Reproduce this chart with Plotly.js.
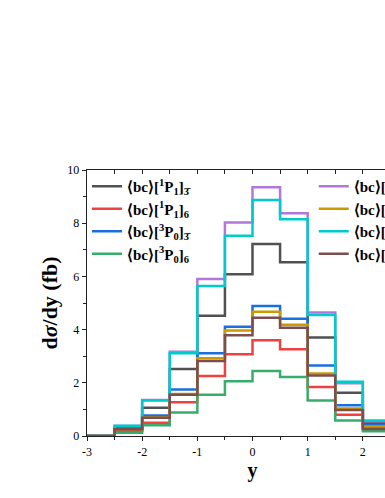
<!DOCTYPE html>
<html>
<head>
<meta charset="utf-8">
<script src="https://cdn.plot.ly/plotly-3.0.1.min.js"></script>
<style>
html,body{margin:0;padding:0;overflow:hidden;background:#fff;width:385px;height:498px;}
#chart{width:440px;height:498px;}
</style>
</head>
<body>
<div id="chart"></div>
<script>
// Bin edges of the rapidity histogram (bin width 0.5)
const binEdges = [-2.5, -2, -1.5, -1, -0.5, 0, 0.5, 1, 1.5, 2, 2.5];

// Axis tick labels
const xTickVals = [-3, -2, -1, 0, 1, 2, 3];
const xTickText = ['-3', '-2', '-1', '0', '1', '2', '3'];
const yTickVals = [0, 2, 4, 6, 8, 10];
const yTickText = ['0', '2', '4', '6', '8', '10'];

// dσ/dy (fb) per bin
const P1_3bar = [0.29, 1.06, 2.52, 4.52, 6.08, 7.22, 6.53, 3.70, 1.63, 0.50];
const P1_6    = [0.20, 0.50, 1.27, 2.26, 3.07, 3.60, 3.26, 1.84, 0.80, 0.30];
const P0_3bar = [0.30, 0.77, 1.75, 3.11, 4.11, 4.89, 4.41, 2.65, 1.16, 0.41];
const P0_6    = [0.12, 0.40, 0.88, 1.55, 2.06, 2.44, 2.22, 1.33, 0.58, 0.18];
const P1b_3bar = [0.38, 1.35, 3.17, 5.90, 8.03, 9.35, 8.37, 4.64, 1.98, 0.55];
const P1b_6    = [0.25, 0.70, 1.58, 2.92, 3.97, 4.67, 4.18, 2.35, 1.03, 0.36];
const P2_3bar  = [0.39, 1.33, 3.11, 5.64, 7.53, 8.87, 8.15, 4.55, 2.04, 0.58];
const P2_6     = [0.25, 0.69, 1.55, 2.82, 3.79, 4.45, 4.07, 2.27, 0.98, 0.26];

const labels = [
  '⟨bc⟩[<sup>1</sup>P<sub>1</sub>]<sub>3̄</sub>',
  '⟨bc⟩[<sup>1</sup>P<sub>1</sub>]<sub>6</sub>',
  '⟨bc⟩[<sup>3</sup>P<sub>0</sub>]<sub>3̄</sub>',
  '⟨bc⟩[<sup>3</sup>P<sub>0</sub>]<sub>6</sub>',
  '⟨bc⟩[<sup>3</sup>P<sub>1</sub>]<sub>3̄</sub>',
  '⟨bc⟩[<sup>3</sup>P<sub>1</sub>]<sub>6</sub>',
  '⟨bc⟩[<sup>3</sup>P<sub>2</sub>]<sub>3̄</sub>',
  '⟨bc⟩[<sup>3</sup>P<sub>2</sub>]<sub>6</sub>'
];
const series = [P1_3bar, P1_6, P0_3bar, P0_6, P1b_3bar, P1b_6, P2_3bar, P2_6];
const colors = ['#515151', '#F14040', '#1A6FDF', '#37AD6B', '#B177DE', '#CC9900', '#00CBCC', '#7D4E4E'];

const xRange = [-3, 3];

function stepXY(vals) {
  const xs = [xRange[0]];
  const ys = [0];
  for (let i = 0; i < vals.length; i++) { xs.push(binEdges[i]); ys.push(vals[i]); }
  xs.push(binEdges[binEdges.length - 1]); ys.push(0);
  xs.push(xRange[1]); ys.push(0);
  return {xs, ys};
}

const traces = series.map((vals, i) => {
  const s = stepXY(vals);
  return {
    x: s.xs, y: s.ys, type: 'scatter', mode: 'lines',
    line: {shape: 'hv', color: colors[i], width: 2.5},
    name: labels[i],
    legend: i < 4 ? 'legend' : 'legend2',
    hoverinfo: 'skip'
  };
});
// dummy trace for top axis ticks
traces.push({x: xRange, y: [0, 0], xaxis: 'x2', yaxis: 'y', mode: 'lines',
  line: {width: 0}, showlegend: false, hoverinfo: 'skip'});

const FAM = '"Liberation Serif", "Times New Roman", serif';
const legendFont = {family: FAM, color: '#000', size: 15, weight: 'bold'};
const tickFont = {family: FAM, color: '#000', size: 12};

const layout = {
  width: 440, height: 498,
  margin: {l: 87, r: 21.5, t: 170, b: 62},
  paper_bgcolor: '#fff', plot_bgcolor: '#fff',
  font: {family: FAM, color: '#000', size: 12},
  showlegend: true,
  xaxis: {
    range: xRange, tickmode: 'array', tickvals: xTickVals, ticktext: xTickText,
    showgrid: false, zeroline: false,
    showline: true, linecolor: '#222', linewidth: 1.3,
    ticks: 'outside', ticklen: 4, tickcolor: '#222', tickwidth: 1,
    minor: {dtick: 0.5, tick0: -3, ticks: 'outside', ticklen: 3, tickcolor: '#222', showgrid: false},
    tickfont: tickFont,
    title: {text: '<b>y</b>', font: {family: FAM, color: '#000', size: 20}, standoff: 5}
  },
  xaxis2: {
    overlaying: 'x', side: 'top', range: xRange, dtick: 0.5, tick0: -3,
    showgrid: false, zeroline: false, showticklabels: false,
    showline: true, linecolor: '#222', linewidth: 1.3,
    ticks: 'inside', ticklen: 4, tickcolor: '#222'
  },
  yaxis: {
    range: [0, 10], tickmode: 'array', tickvals: yTickVals, ticktext: yTickText,
    showgrid: false, zeroline: false,
    showline: true, linecolor: '#222', linewidth: 1.3, mirror: true,
    ticks: 'outside', ticklen: 4, tickcolor: '#222',
    minor: {dtick: 1, tick0: 0, ticks: 'outside', ticklen: 3, tickcolor: '#222', showgrid: false},
    tickfont: tickFont,
    title: {text: '<b>d<i>σ</i>/dy (fb)</b>', font: {family: FAM, color: '#000', size: 22}, standoff: 3}
  },
  legend: {
    x: 0.0, y: 1.0, xanchor: 'left', yanchor: 'top',
    bgcolor: 'rgba(0,0,0,0)', borderwidth: 0,
    font: legendFont, itemwidth: 30, tracegroupgap: 0
  },
  legend2: {
    x: 0.685, y: 1.0, xanchor: 'left', yanchor: 'top',
    bgcolor: 'rgba(0,0,0,0)', borderwidth: 0,
    font: legendFont, itemwidth: 30, tracegroupgap: 0
  }
};

Plotly.newPlot('chart', traces, layout, {displayModeBar: false, staticPlot: true});
</script>
</body>
</html>
